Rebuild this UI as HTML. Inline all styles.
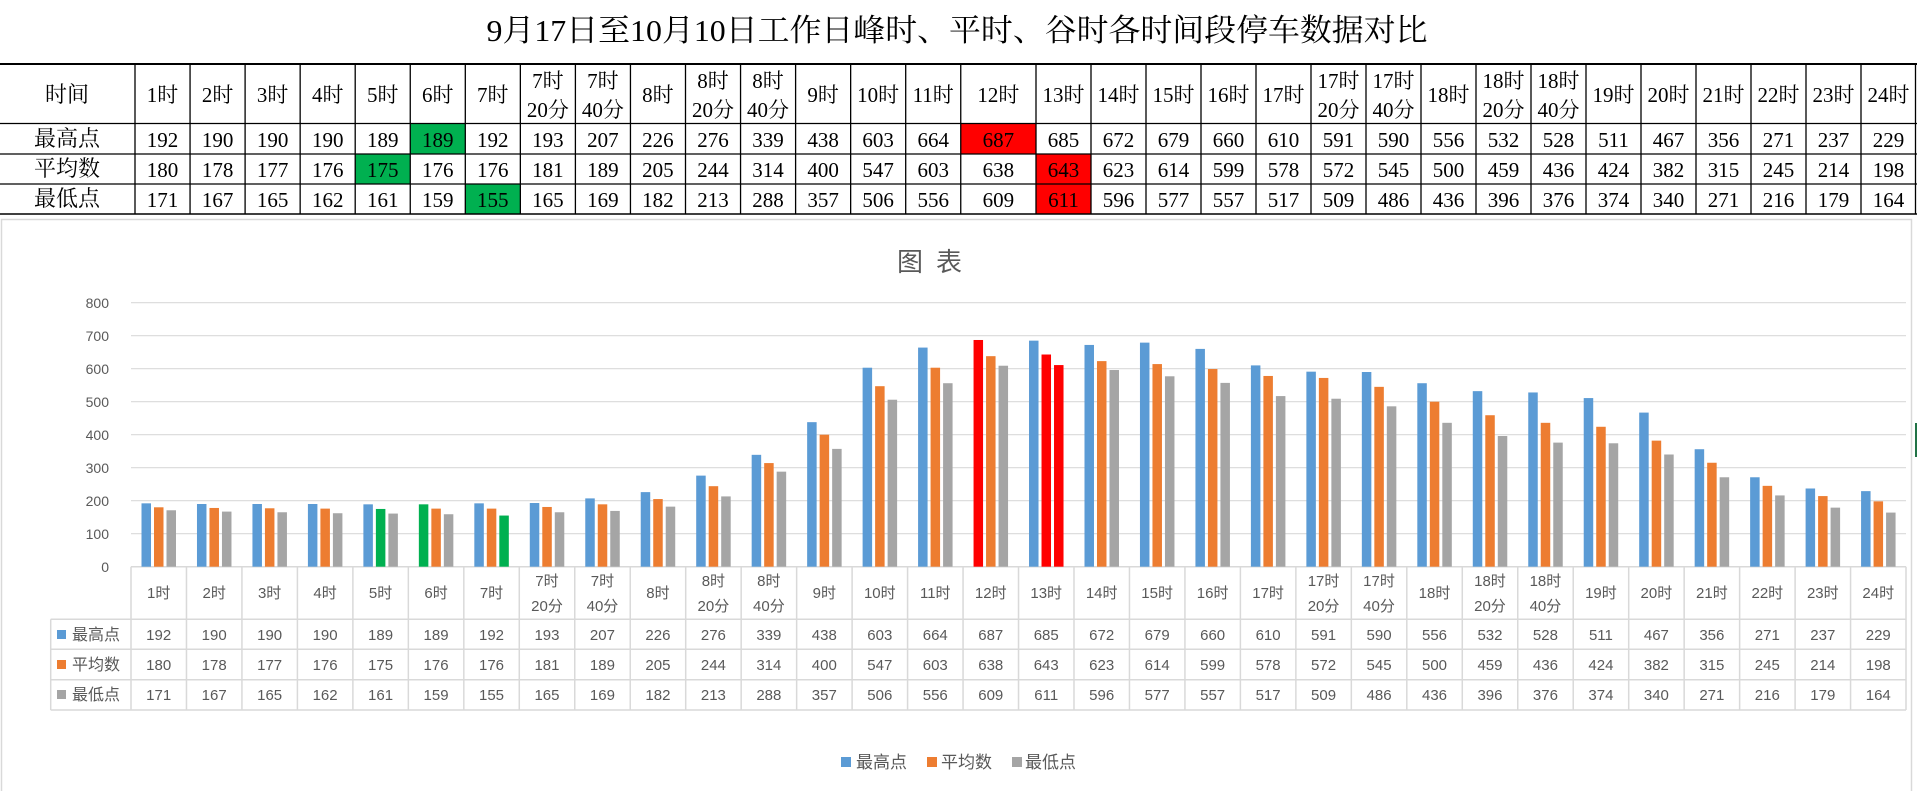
<!DOCTYPE html>
<html><head><meta charset="utf-8"><style>
html,body{margin:0;padding:0;background:#fff;width:1917px;height:791px;overflow:hidden}
.s{font-family:"Liberation Serif","Noto Serif CJK SC",serif;fill:#000}
.c{font-family:"Liberation Sans","Noto Sans CJK SC",sans-serif;fill:#595959}
.b{fill:#5b9bd5}.o{fill:#ed7d31}.g{fill:#a5a5a5}.gr{fill:#00b050}.r{fill:#ff0000}
</style></head><body>
<svg width="1917" height="791" viewBox="0 0 1917 791" xmlns="http://www.w3.org/2000/svg">
<rect width="1917" height="791" fill="#fff"/>
<!-- title -->
<text class="s" x="957" y="41" font-size="31" text-anchor="middle" textLength="941" lengthAdjust="spacingAndGlyphs">9月17日至10月10日工作日峰时、平时、谷时各时间段停车数据对比</text>
<!-- highlights top table -->
<rect x="410.25" y="123.5" width="55.05" height="30.5" fill="#00b050"/>
<rect x="355.2" y="154" width="55.05" height="30" fill="#00b050"/>
<rect x="465.3" y="184" width="55.05" height="30" fill="#00b050"/>
<rect x="960.75" y="123.5" width="75.25" height="30.5" fill="#ff0000"/>
<rect x="1036" y="154" width="55" height="60" fill="#ff0000"/>
<!-- top table lines -->
<g stroke="#000" stroke-width="1.3" fill="none">
<line x1="0" y1="64" x2="1917" y2="64" stroke-width="2"/>
<line x1="0" y1="123.5" x2="1917" y2="123.5"/>
<line x1="0" y1="154" x2="1917" y2="154"/>
<line x1="0" y1="184" x2="1917" y2="184"/>
<line x1="0" y1="214" x2="1917" y2="214" stroke-width="1.6"/>
<path d="M135 64V214M190.05 64V214M245.1 64V214M300.15 64V214M355.2 64V214M410.25 64V214M465.3 64V214M520.35 64V214M575.4 64V214M630.45 64V214M685.5 64V214M740.55 64V214M795.6 64V214M850.65 64V214M905.7 64V214M960.75 64V214M1036 64V214M1091 64V214M1146 64V214M1201 64V214M1256 64V214M1311 64V214M1366 64V214M1421 64V214M1476 64V214M1531 64V214M1586 64V214M1641 64V214M1696 64V214M1751 64V214M1806 64V214M1861 64V214M1915.5 64V214"/>
</g>
<!-- top table text -->
<g class="s" font-size="22" text-anchor="middle">
<text x="67" y="102">时间</text><text x="67" y="146">最高点</text><text x="67" y="176">平均数</text><text x="67" y="206">最低点</text>
</g>
<g class="s" font-size="21" text-anchor="middle">
<g transform="translate(162.5)"><text y="102">1时</text><text y="147">192</text><text y="177">180</text><text y="207">171</text></g>
<g transform="translate(217.6)"><text y="102">2时</text><text y="147">190</text><text y="177">178</text><text y="207">167</text></g>
<g transform="translate(272.6)"><text y="102">3时</text><text y="147">190</text><text y="177">177</text><text y="207">165</text></g>
<g transform="translate(327.7)"><text y="102">4时</text><text y="147">190</text><text y="177">176</text><text y="207">162</text></g>
<g transform="translate(382.7)"><text y="102">5时</text><text y="147">189</text><text y="177">175</text><text y="207">161</text></g>
<g transform="translate(437.8)"><text y="102">6时</text><text y="147">189</text><text y="177">176</text><text y="207">159</text></g>
<g transform="translate(492.8)"><text y="102">7时</text><text y="147">192</text><text y="177">176</text><text y="207">155</text></g>
<g transform="translate(547.9)"><text y="88">7时</text><text y="117">20分</text><text y="147">193</text><text y="177">181</text><text y="207">165</text></g>
<g transform="translate(602.9)"><text y="88">7时</text><text y="117">40分</text><text y="147">207</text><text y="177">189</text><text y="207">169</text></g>
<g transform="translate(657.9)"><text y="102">8时</text><text y="147">226</text><text y="177">205</text><text y="207">182</text></g>
<g transform="translate(713)"><text y="88">8时</text><text y="117">20分</text><text y="147">276</text><text y="177">244</text><text y="207">213</text></g>
<g transform="translate(768)"><text y="88">8时</text><text y="117">40分</text><text y="147">339</text><text y="177">314</text><text y="207">288</text></g>
<g transform="translate(823.1)"><text y="102">9时</text><text y="147">438</text><text y="177">400</text><text y="207">357</text></g>
<g transform="translate(878.1)"><text y="102">10时</text><text y="147">603</text><text y="177">547</text><text y="207">506</text></g>
<g transform="translate(933.2)"><text y="102">11时</text><text y="147">664</text><text y="177">603</text><text y="207">556</text></g>
<g transform="translate(998.4)"><text y="102">12时</text><text y="147">687</text><text y="177">638</text><text y="207">609</text></g>
<g transform="translate(1063.5)"><text y="102">13时</text><text y="147">685</text><text y="177">643</text><text y="207">611</text></g>
<g transform="translate(1118.5)"><text y="102">14时</text><text y="147">672</text><text y="177">623</text><text y="207">596</text></g>
<g transform="translate(1173.5)"><text y="102">15时</text><text y="147">679</text><text y="177">614</text><text y="207">577</text></g>
<g transform="translate(1228.5)"><text y="102">16时</text><text y="147">660</text><text y="177">599</text><text y="207">557</text></g>
<g transform="translate(1283.5)"><text y="102">17时</text><text y="147">610</text><text y="177">578</text><text y="207">517</text></g>
<g transform="translate(1338.5)"><text y="88">17时</text><text y="117">20分</text><text y="147">591</text><text y="177">572</text><text y="207">509</text></g>
<g transform="translate(1393.5)"><text y="88">17时</text><text y="117">40分</text><text y="147">590</text><text y="177">545</text><text y="207">486</text></g>
<g transform="translate(1448.5)"><text y="102">18时</text><text y="147">556</text><text y="177">500</text><text y="207">436</text></g>
<g transform="translate(1503.5)"><text y="88">18时</text><text y="117">20分</text><text y="147">532</text><text y="177">459</text><text y="207">396</text></g>
<g transform="translate(1558.5)"><text y="88">18时</text><text y="117">40分</text><text y="147">528</text><text y="177">436</text><text y="207">376</text></g>
<g transform="translate(1613.5)"><text y="102">19时</text><text y="147">511</text><text y="177">424</text><text y="207">374</text></g>
<g transform="translate(1668.5)"><text y="102">20时</text><text y="147">467</text><text y="177">382</text><text y="207">340</text></g>
<g transform="translate(1723.5)"><text y="102">21时</text><text y="147">356</text><text y="177">315</text><text y="207">271</text></g>
<g transform="translate(1778.5)"><text y="102">22时</text><text y="147">271</text><text y="177">245</text><text y="207">216</text></g>
<g transform="translate(1833.5)"><text y="102">23时</text><text y="147">237</text><text y="177">214</text><text y="207">179</text></g>
<g transform="translate(1888.5)"><text y="102">24时</text><text y="147">229</text><text y="177">198</text><text y="207">164</text></g>
</g>

<!-- chart border -->
<rect x="1.5" y="219.5" width="1910" height="600" fill="#fff" stroke="#d9d9d9" stroke-width="1.5"/>
<text class="c" x="897" y="271" font-size="26">图</text>
<text class="c" x="936" y="271" font-size="26">表</text>
<!-- gridlines -->
<g stroke="#d9d9d9" stroke-width="1.2">
<line x1="131" y1="302.7" x2="1906" y2="302.7"/><line x1="131" y1="335.7" x2="1906" y2="335.7"/>
<line x1="131" y1="368.7" x2="1906" y2="368.7"/><line x1="131" y1="401.7" x2="1906" y2="401.7"/>
<line x1="131" y1="434.7" x2="1906" y2="434.7"/><line x1="131" y1="467.7" x2="1906" y2="467.7"/>
<line x1="131" y1="500.7" x2="1906" y2="500.7"/><line x1="131" y1="533.7" x2="1906" y2="533.7"/>
</g>
<g class="c" font-size="14" text-anchor="end">
<text x="109" y="308">800</text><text x="109" y="341">700</text><text x="109" y="374">600</text>
<text x="109" y="407">500</text><text x="109" y="440">400</text><text x="109" y="473">300</text>
<text x="109" y="506">200</text><text x="109" y="539">100</text><text x="109" y="572">0</text>
</g>
<!-- data table grid -->
<g stroke="#d9d9d9" stroke-width="1.5" fill="none">
<line x1="131" y1="566.7" x2="1906" y2="566.7"/>
<line x1="50.7" y1="619.3" x2="1906" y2="619.3"/>
<line x1="50.7" y1="649.3" x2="1906" y2="649.3"/>
<line x1="50.7" y1="679.7" x2="1906" y2="679.7"/>
<line x1="50.7" y1="710" x2="1906" y2="710"/>
<line x1="50.7" y1="619.3" x2="50.7" y2="710"/>
<path d="M131 566.7V710M186.47 566.7V710M241.94 566.7V710M297.41 566.7V710M352.88 566.7V710M408.35 566.7V710M463.82 566.7V710M519.29 566.7V710M574.76 566.7V710M630.23 566.7V710M685.7 566.7V710M741.17 566.7V710M796.64 566.7V710M852.11 566.7V710M907.58 566.7V710M963.05 566.7V710M1018.52 566.7V710M1073.99 566.7V710M1129.46 566.7V710M1184.93 566.7V710M1240.4 566.7V710M1295.87 566.7V710M1351.34 566.7V710M1406.81 566.7V710M1462.28 566.7V710M1517.75 566.7V710M1573.22 566.7V710M1628.69 566.7V710M1684.16 566.7V710M1739.63 566.7V710M1795.1 566.7V710M1850.57 566.7V710M1906 566.7V710"/>
</g>
<!-- key column -->
<rect x="57" y="630" width="9" height="9" class="b"/><text class="c" x="72" y="640" font-size="16">最高点</text>
<rect x="57" y="660" width="9" height="9" class="o"/><text class="c" x="72" y="670" font-size="16">平均数</text>
<rect x="57" y="690" width="9" height="9" class="g"/><text class="c" x="72" y="700" font-size="16">最低点</text>

<!-- categories -->
<g class="c" font-size="15" text-anchor="middle">
<g transform="translate(131)"><g transform="translate(0,566.7) scale(1,-0.33)"><rect x="10.5" width="9.5" height="192" class="b"/><rect x="23" width="9.5" height="180" class="o"/><rect x="35.5" width="9.5" height="171" class="g"/></g><text x="27.7" y="598">1时</text><text x="27.7" y="640">192</text><text x="27.7" y="670">180</text><text x="27.7" y="700">171</text></g>
<g transform="translate(186.47)"><g transform="translate(0,566.7) scale(1,-0.33)"><rect x="10.5" width="9.5" height="190" class="b"/><rect x="23" width="9.5" height="178" class="o"/><rect x="35.5" width="9.5" height="167" class="g"/></g><text x="27.7" y="598">2时</text><text x="27.7" y="640">190</text><text x="27.7" y="670">178</text><text x="27.7" y="700">167</text></g>
<g transform="translate(241.94)"><g transform="translate(0,566.7) scale(1,-0.33)"><rect x="10.5" width="9.5" height="190" class="b"/><rect x="23" width="9.5" height="177" class="o"/><rect x="35.5" width="9.5" height="165" class="g"/></g><text x="27.7" y="598">3时</text><text x="27.7" y="640">190</text><text x="27.7" y="670">177</text><text x="27.7" y="700">165</text></g>
<g transform="translate(297.41)"><g transform="translate(0,566.7) scale(1,-0.33)"><rect x="10.5" width="9.5" height="190" class="b"/><rect x="23" width="9.5" height="176" class="o"/><rect x="35.5" width="9.5" height="162" class="g"/></g><text x="27.7" y="598">4时</text><text x="27.7" y="640">190</text><text x="27.7" y="670">176</text><text x="27.7" y="700">162</text></g>
<g transform="translate(352.88)"><g transform="translate(0,566.7) scale(1,-0.33)"><rect x="10.5" width="9.5" height="189" class="b"/><rect x="23" width="9.5" height="175" class="gr"/><rect x="35.5" width="9.5" height="161" class="g"/></g><text x="27.7" y="598">5时</text><text x="27.7" y="640">189</text><text x="27.7" y="670">175</text><text x="27.7" y="700">161</text></g>
<g transform="translate(408.35)"><g transform="translate(0,566.7) scale(1,-0.33)"><rect x="10.5" width="9.5" height="189" class="gr"/><rect x="23" width="9.5" height="176" class="o"/><rect x="35.5" width="9.5" height="159" class="g"/></g><text x="27.7" y="598">6时</text><text x="27.7" y="640">189</text><text x="27.7" y="670">176</text><text x="27.7" y="700">159</text></g>
<g transform="translate(463.82)"><g transform="translate(0,566.7) scale(1,-0.33)"><rect x="10.5" width="9.5" height="192" class="b"/><rect x="23" width="9.5" height="176" class="o"/><rect x="35.5" width="9.5" height="155" class="gr"/></g><text x="27.7" y="598">7时</text><text x="27.7" y="640">192</text><text x="27.7" y="670">176</text><text x="27.7" y="700">155</text></g>
<g transform="translate(519.29)"><g transform="translate(0,566.7) scale(1,-0.33)"><rect x="10.5" width="9.5" height="193" class="b"/><rect x="23" width="9.5" height="181" class="o"/><rect x="35.5" width="9.5" height="165" class="g"/></g><text x="27.7" y="586">7时</text><text x="27.7" y="611">20分</text><text x="27.7" y="640">193</text><text x="27.7" y="670">181</text><text x="27.7" y="700">165</text></g>
<g transform="translate(574.76)"><g transform="translate(0,566.7) scale(1,-0.33)"><rect x="10.5" width="9.5" height="207" class="b"/><rect x="23" width="9.5" height="189" class="o"/><rect x="35.5" width="9.5" height="169" class="g"/></g><text x="27.7" y="586">7时</text><text x="27.7" y="611">40分</text><text x="27.7" y="640">207</text><text x="27.7" y="670">189</text><text x="27.7" y="700">169</text></g>
<g transform="translate(630.23)"><g transform="translate(0,566.7) scale(1,-0.33)"><rect x="10.5" width="9.5" height="226" class="b"/><rect x="23" width="9.5" height="205" class="o"/><rect x="35.5" width="9.5" height="182" class="g"/></g><text x="27.7" y="598">8时</text><text x="27.7" y="640">226</text><text x="27.7" y="670">205</text><text x="27.7" y="700">182</text></g>
<g transform="translate(685.7)"><g transform="translate(0,566.7) scale(1,-0.33)"><rect x="10.5" width="9.5" height="276" class="b"/><rect x="23" width="9.5" height="244" class="o"/><rect x="35.5" width="9.5" height="213" class="g"/></g><text x="27.7" y="586">8时</text><text x="27.7" y="611">20分</text><text x="27.7" y="640">276</text><text x="27.7" y="670">244</text><text x="27.7" y="700">213</text></g>
<g transform="translate(741.17)"><g transform="translate(0,566.7) scale(1,-0.33)"><rect x="10.5" width="9.5" height="339" class="b"/><rect x="23" width="9.5" height="314" class="o"/><rect x="35.5" width="9.5" height="288" class="g"/></g><text x="27.7" y="586">8时</text><text x="27.7" y="611">40分</text><text x="27.7" y="640">339</text><text x="27.7" y="670">314</text><text x="27.7" y="700">288</text></g>
<g transform="translate(796.64)"><g transform="translate(0,566.7) scale(1,-0.33)"><rect x="10.5" width="9.5" height="438" class="b"/><rect x="23" width="9.5" height="400" class="o"/><rect x="35.5" width="9.5" height="357" class="g"/></g><text x="27.7" y="598">9时</text><text x="27.7" y="640">438</text><text x="27.7" y="670">400</text><text x="27.7" y="700">357</text></g>
<g transform="translate(852.11)"><g transform="translate(0,566.7) scale(1,-0.33)"><rect x="10.5" width="9.5" height="603" class="b"/><rect x="23" width="9.5" height="547" class="o"/><rect x="35.5" width="9.5" height="506" class="g"/></g><text x="27.7" y="598">10时</text><text x="27.7" y="640">603</text><text x="27.7" y="670">547</text><text x="27.7" y="700">506</text></g>
<g transform="translate(907.58)"><g transform="translate(0,566.7) scale(1,-0.33)"><rect x="10.5" width="9.5" height="664" class="b"/><rect x="23" width="9.5" height="603" class="o"/><rect x="35.5" width="9.5" height="556" class="g"/></g><text x="27.7" y="598">11时</text><text x="27.7" y="640">664</text><text x="27.7" y="670">603</text><text x="27.7" y="700">556</text></g>
<g transform="translate(963.05)"><g transform="translate(0,566.7) scale(1,-0.33)"><rect x="10.5" width="9.5" height="687" class="r"/><rect x="23" width="9.5" height="638" class="o"/><rect x="35.5" width="9.5" height="609" class="g"/></g><text x="27.7" y="598">12时</text><text x="27.7" y="640">687</text><text x="27.7" y="670">638</text><text x="27.7" y="700">609</text></g>
<g transform="translate(1018.52)"><g transform="translate(0,566.7) scale(1,-0.33)"><rect x="10.5" width="9.5" height="685" class="b"/><rect x="23" width="9.5" height="643" class="r"/><rect x="35.5" width="9.5" height="611" class="r"/></g><text x="27.7" y="598">13时</text><text x="27.7" y="640">685</text><text x="27.7" y="670">643</text><text x="27.7" y="700">611</text></g>
<g transform="translate(1073.99)"><g transform="translate(0,566.7) scale(1,-0.33)"><rect x="10.5" width="9.5" height="672" class="b"/><rect x="23" width="9.5" height="623" class="o"/><rect x="35.5" width="9.5" height="596" class="g"/></g><text x="27.7" y="598">14时</text><text x="27.7" y="640">672</text><text x="27.7" y="670">623</text><text x="27.7" y="700">596</text></g>
<g transform="translate(1129.46)"><g transform="translate(0,566.7) scale(1,-0.33)"><rect x="10.5" width="9.5" height="679" class="b"/><rect x="23" width="9.5" height="614" class="o"/><rect x="35.5" width="9.5" height="577" class="g"/></g><text x="27.7" y="598">15时</text><text x="27.7" y="640">679</text><text x="27.7" y="670">614</text><text x="27.7" y="700">577</text></g>
<g transform="translate(1184.93)"><g transform="translate(0,566.7) scale(1,-0.33)"><rect x="10.5" width="9.5" height="660" class="b"/><rect x="23" width="9.5" height="599" class="o"/><rect x="35.5" width="9.5" height="557" class="g"/></g><text x="27.7" y="598">16时</text><text x="27.7" y="640">660</text><text x="27.7" y="670">599</text><text x="27.7" y="700">557</text></g>
<g transform="translate(1240.4)"><g transform="translate(0,566.7) scale(1,-0.33)"><rect x="10.5" width="9.5" height="610" class="b"/><rect x="23" width="9.5" height="578" class="o"/><rect x="35.5" width="9.5" height="517" class="g"/></g><text x="27.7" y="598">17时</text><text x="27.7" y="640">610</text><text x="27.7" y="670">578</text><text x="27.7" y="700">517</text></g>
<g transform="translate(1295.87)"><g transform="translate(0,566.7) scale(1,-0.33)"><rect x="10.5" width="9.5" height="591" class="b"/><rect x="23" width="9.5" height="572" class="o"/><rect x="35.5" width="9.5" height="509" class="g"/></g><text x="27.7" y="586">17时</text><text x="27.7" y="611">20分</text><text x="27.7" y="640">591</text><text x="27.7" y="670">572</text><text x="27.7" y="700">509</text></g>
<g transform="translate(1351.34)"><g transform="translate(0,566.7) scale(1,-0.33)"><rect x="10.5" width="9.5" height="590" class="b"/><rect x="23" width="9.5" height="545" class="o"/><rect x="35.5" width="9.5" height="486" class="g"/></g><text x="27.7" y="586">17时</text><text x="27.7" y="611">40分</text><text x="27.7" y="640">590</text><text x="27.7" y="670">545</text><text x="27.7" y="700">486</text></g>
<g transform="translate(1406.81)"><g transform="translate(0,566.7) scale(1,-0.33)"><rect x="10.5" width="9.5" height="556" class="b"/><rect x="23" width="9.5" height="500" class="o"/><rect x="35.5" width="9.5" height="436" class="g"/></g><text x="27.7" y="598">18时</text><text x="27.7" y="640">556</text><text x="27.7" y="670">500</text><text x="27.7" y="700">436</text></g>
<g transform="translate(1462.28)"><g transform="translate(0,566.7) scale(1,-0.33)"><rect x="10.5" width="9.5" height="532" class="b"/><rect x="23" width="9.5" height="459" class="o"/><rect x="35.5" width="9.5" height="396" class="g"/></g><text x="27.7" y="586">18时</text><text x="27.7" y="611">20分</text><text x="27.7" y="640">532</text><text x="27.7" y="670">459</text><text x="27.7" y="700">396</text></g>
<g transform="translate(1517.75)"><g transform="translate(0,566.7) scale(1,-0.33)"><rect x="10.5" width="9.5" height="528" class="b"/><rect x="23" width="9.5" height="436" class="o"/><rect x="35.5" width="9.5" height="376" class="g"/></g><text x="27.7" y="586">18时</text><text x="27.7" y="611">40分</text><text x="27.7" y="640">528</text><text x="27.7" y="670">436</text><text x="27.7" y="700">376</text></g>
<g transform="translate(1573.22)"><g transform="translate(0,566.7) scale(1,-0.33)"><rect x="10.5" width="9.5" height="511" class="b"/><rect x="23" width="9.5" height="424" class="o"/><rect x="35.5" width="9.5" height="374" class="g"/></g><text x="27.7" y="598">19时</text><text x="27.7" y="640">511</text><text x="27.7" y="670">424</text><text x="27.7" y="700">374</text></g>
<g transform="translate(1628.69)"><g transform="translate(0,566.7) scale(1,-0.33)"><rect x="10.5" width="9.5" height="467" class="b"/><rect x="23" width="9.5" height="382" class="o"/><rect x="35.5" width="9.5" height="340" class="g"/></g><text x="27.7" y="598">20时</text><text x="27.7" y="640">467</text><text x="27.7" y="670">382</text><text x="27.7" y="700">340</text></g>
<g transform="translate(1684.16)"><g transform="translate(0,566.7) scale(1,-0.33)"><rect x="10.5" width="9.5" height="356" class="b"/><rect x="23" width="9.5" height="315" class="o"/><rect x="35.5" width="9.5" height="271" class="g"/></g><text x="27.7" y="598">21时</text><text x="27.7" y="640">356</text><text x="27.7" y="670">315</text><text x="27.7" y="700">271</text></g>
<g transform="translate(1739.63)"><g transform="translate(0,566.7) scale(1,-0.33)"><rect x="10.5" width="9.5" height="271" class="b"/><rect x="23" width="9.5" height="245" class="o"/><rect x="35.5" width="9.5" height="216" class="g"/></g><text x="27.7" y="598">22时</text><text x="27.7" y="640">271</text><text x="27.7" y="670">245</text><text x="27.7" y="700">216</text></g>
<g transform="translate(1795.1)"><g transform="translate(0,566.7) scale(1,-0.33)"><rect x="10.5" width="9.5" height="237" class="b"/><rect x="23" width="9.5" height="214" class="o"/><rect x="35.5" width="9.5" height="179" class="g"/></g><text x="27.7" y="598">23时</text><text x="27.7" y="640">237</text><text x="27.7" y="670">214</text><text x="27.7" y="700">179</text></g>
<g transform="translate(1850.57)"><g transform="translate(0,566.7) scale(1,-0.33)"><rect x="10.5" width="9.5" height="229" class="b"/><rect x="23" width="9.5" height="198" class="o"/><rect x="35.5" width="9.5" height="164" class="g"/></g><text x="27.7" y="598">24时</text><text x="27.7" y="640">229</text><text x="27.7" y="670">198</text><text x="27.7" y="700">164</text></g>
</g>
<!-- legend -->
<rect x="841" y="757" width="10" height="10" class="b"/><text class="c" x="856" y="768" font-size="17">最高点</text>
<rect x="927" y="757" width="10" height="10" class="o"/><text class="c" x="941" y="768" font-size="17">平均数</text>
<rect x="1012" y="757" width="10" height="10" class="g"/><text class="c" x="1025" y="768" font-size="17">最低点</text>
<rect x="1915" y="423" width="2" height="34" fill="#217346"/>
</svg>
</body></html>
